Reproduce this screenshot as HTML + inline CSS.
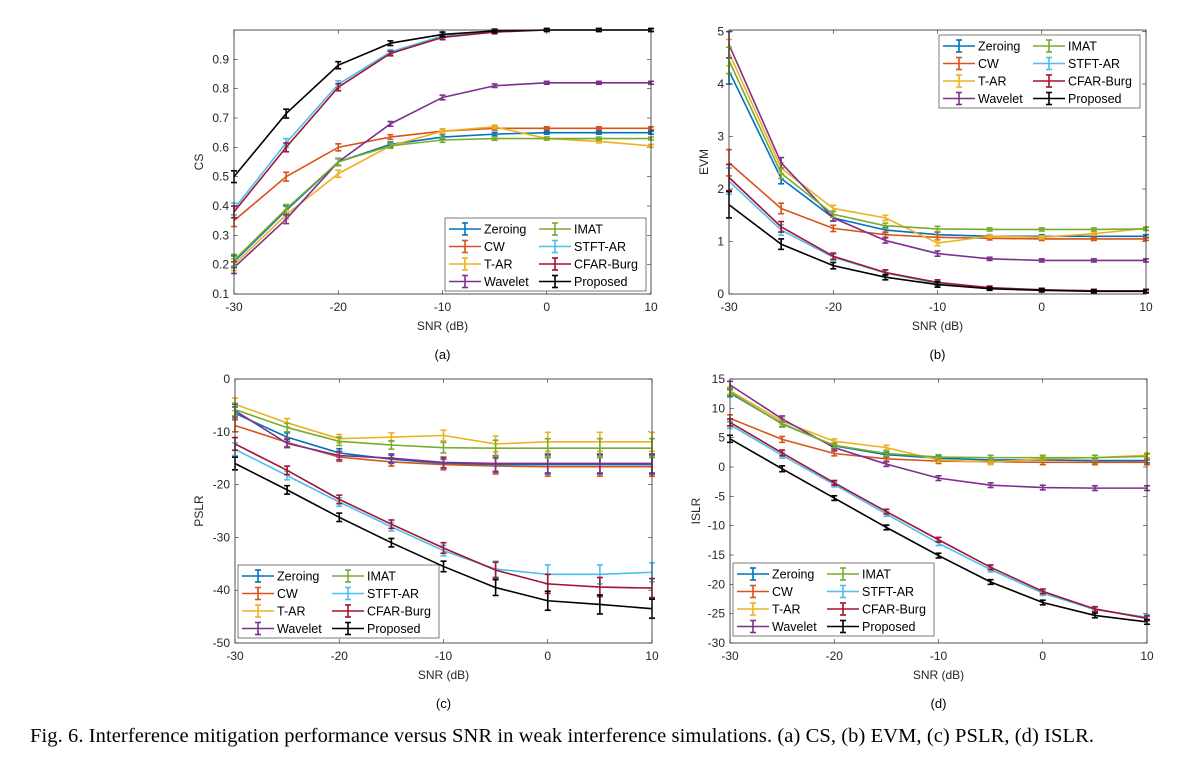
<!DOCTYPE html>
<html><head><meta charset="utf-8"><style>
body{margin:0;background:#fff;width:1195px;height:761px;overflow:hidden;font-family:"Liberation Sans",sans-serif}
svg{position:absolute;left:0;top:0}
</style></head><body>
<svg id="fig" width="1195" height="761" font-family="Liberation Sans, sans-serif"></svg>
<script>
const snr=[-30,-25,-20,-15,-10,-5,0,5,10];
const xTicks=[-30,-20,-10,0,10];
const names=["Zeroing","CW","T-AR","Wavelet","IMAT","STFT-AR","CFAR-Burg","Proposed"];
const colors=["#0072BD","#D95319","#EDB120","#7E2F8E","#77AC30","#4DBEEE","#A2142F","#000000"];
// (a) CS
const csZeroing=[0.21,0.385,0.55,0.61,0.635,0.645,0.65,0.65,0.65];
const csCW=[0.35,0.50,0.60,0.635,0.655,0.665,0.665,0.665,0.665];
const csTAR=[0.20,0.37,0.51,0.605,0.655,0.67,0.63,0.62,0.605];
const csWavelet=[0.19,0.355,0.55,0.68,0.77,0.81,0.82,0.82,0.82];
const csIMAT=[0.215,0.39,0.55,0.605,0.625,0.63,0.63,0.63,0.63];
const csSTFT=[0.39,0.615,0.815,0.925,0.98,0.995,1.0,1.0,1.0];
const csCFAR=[0.38,0.60,0.805,0.92,0.975,0.993,1.0,1.0,1.0];
const csProposed=[0.50,0.715,0.88,0.955,0.985,0.997,1.0,1.0,1.0];
const csErr=[0.02,0.015,0.012,0.008,0.008,0.006,0.005,0.005,0.005];
const csTicks=[0.1,0.2,0.3,0.4,0.5,0.6,0.7,0.8,0.9];
// (b) EVM
const evmZeroing=[4.25,2.2,1.45,1.22,1.13,1.1,1.1,1.1,1.1];
const evmCW=[2.5,1.63,1.25,1.13,1.08,1.06,1.05,1.05,1.05];
const evmTAR=[4.6,2.4,1.63,1.45,0.97,1.1,1.08,1.15,1.25];
const evmWavelet=[4.75,2.5,1.45,1.02,0.77,0.67,0.64,0.64,0.64];
const evmIMAT=[4.45,2.3,1.52,1.3,1.24,1.23,1.23,1.23,1.24];
const evmSTFT=[2.15,1.22,0.7,0.4,0.2,0.12,0.08,0.06,0.06];
const evmCFAR=[2.22,1.28,0.72,0.41,0.22,0.12,0.08,0.06,0.06];
const evmProposed=[1.7,0.95,0.54,0.32,0.18,0.1,0.07,0.05,0.05];
const evmErr=[0.25,0.1,0.06,0.05,0.05,0.03,0.03,0.03,0.03];
const evmTicks=[0,1,2,3,4,5];
// (c) PSLR
const pslrZeroing=[-6.5,-11,-14,-15.2,-16,-16.2,-16.2,-16.2,-16.2];
const pslrCW=[-8.8,-12,-14.8,-15.7,-16.2,-16.5,-16.6,-16.6,-16.6];
const pslrTAR=[-4.8,-8.3,-11.3,-11,-10.7,-12.3,-11.9,-11.9,-11.9];
const pslrWavelet=[-6,-12.2,-14.5,-15,-15.8,-16,-16,-16,-16];
const pslrIMAT=[-5.8,-9.2,-11.8,-12.5,-13,-13.1,-13.1,-13.1,-13.1];
const pslrSTFT=[-13.3,-18.3,-23.3,-28,-32.5,-36,-37,-37,-36.6];
const pslrCFAR=[-12.3,-17.3,-22.8,-27.5,-32,-36.2,-38.8,-39.4,-39.6];
const pslrProposed=[-16,-21,-26.2,-31,-35.5,-39.5,-42,-42.7,-43.5];
const pslrErr=[1.2,0.8,0.8,0.8,1,1.5,1.8,1.8,1.8];
const pslrTicks=[-50,-40,-30,-20,-10,0];
// (d) ISLR
const islrZeroing=[12.6,7.4,3.6,2.1,1.5,1.2,1.2,1.1,1.1];
const islrCW=[8.3,4.7,2.3,1.4,1.0,0.9,0.8,0.8,0.8];
const islrTAR=[13,7.8,4.4,3.3,1.2,0.8,1.4,1.6,2.0];
const islrWavelet=[14,8.2,3.3,0.5,-1.9,-3.1,-3.5,-3.6,-3.6];
const islrIMAT=[12.8,7.3,3.7,2.3,1.7,1.6,1.6,1.6,1.8];
const islrSTFT=[7.2,2.0,-3.0,-8.0,-13,-17.5,-21.5,-24.3,-25.6];
const islrCFAR=[7.6,2.4,-2.7,-7.6,-12.4,-17.1,-21.2,-24.2,-25.8];
const islrProposed=[4.8,-0.3,-5.3,-10.3,-15.1,-19.6,-23.1,-25.3,-26.4];
const islrErr=[0.6,0.5,0.4,0.4,0.4,0.4,0.4,0.4,0.4];
const islrTicks=[-30,-25,-20,-15,-10,-5,0,5,10,15];

const NS="http://www.w3.org/2000/svg";
const svg=document.getElementById('fig');
function mk(tag,attrs,parent,text){const e=document.createElementNS(NS,tag);for(const k in attrs)e.setAttribute(k,attrs[k]);if(text!==undefined)e.textContent=text;(parent||svg).appendChild(e);return e;}

const panels=[
 {id:"cs",label:"CS",letter:"(a)",L:234,R:651,T:30,B:294,ymin:0.1,ymax:1.0,ticks:csTicks,fmt:v=>v.toFixed(1),series:[csZeroing,csCW,csTAR,csWavelet,csIMAT,csSTFT,csCFAR,csProposed],err:csErr,leg:[445,218],ylx:203},
 {id:"evm",label:"EVM",letter:"(b)",L:729,R:1146,T:30,B:294,ymin:0,ymax:5.03,ticks:evmTicks,fmt:v=>String(v),series:[evmZeroing,evmCW,evmTAR,evmWavelet,evmIMAT,evmSTFT,evmCFAR,evmProposed],err:evmErr,leg:[939,35],ylx:708},
 {id:"pslr",label:"PSLR",letter:"(c)",L:235,R:652,T:379,B:643,ymin:-50,ymax:0,ticks:pslrTicks,fmt:v=>String(v),series:[pslrZeroing,pslrCW,pslrTAR,pslrWavelet,pslrIMAT,pslrSTFT,pslrCFAR,pslrProposed],err:pslrErr,leg:[238,565],ylx:203},
 {id:"islr",label:"ISLR",letter:"(d)",L:730,R:1147,T:379,B:643,ymin:-30,ymax:15,ticks:islrTicks,fmt:v=>String(v),series:[islrZeroing,islrCW,islrTAR,islrWavelet,islrIMAT,islrSTFT,islrCFAR,islrProposed],err:islrErr,leg:[733,563],ylx:700}
];

panels.forEach(p=>{
 const g=mk('g',{});
 
 
 const xs=v=>p.L+(v-(-30))/40*(p.R-p.L);
 const ys=v=>p.B-(v-p.ymin)/(p.ymax-p.ymin)*(p.B-p.T);
 xTicks.forEach(t=>{
  const x=xs(t);
  mk('line',{x1:x,x2:x,y1:p.B,y2:p.B-4,stroke:'#262626','stroke-width':0.6},g);
  mk('line',{x1:x,x2:x,y1:p.T,y2:p.T+4,stroke:'#262626','stroke-width':0.6},g);
  const tl=mk('text',{x:x,y:p.B+17,'text-anchor':'middle','font-size':12,fill:'#262626'},g,String(t));
  
  
 });
 p.ticks.forEach(t=>{
  const y=ys(t);
  mk('line',{x1:p.L,x2:p.L+4,y1:y,y2:y,stroke:'#262626','stroke-width':0.6},g);
  mk('line',{x1:p.R,x2:p.R-4,y1:y,y2:y,stroke:'#262626','stroke-width':0.6},g);
  const tl=mk('text',{x:p.L-5,y:y+4,'text-anchor':'end','font-size':12,fill:'#262626'},g,p.fmt(t));
  
  
 });
 p.series.forEach((s,i)=>{
  const sg=mk('g',{},g);
  
  
  const pts=s.map((v,k)=>xs(snr[k])+','+ys(v)).join(' ');
  mk('polyline',{points:pts,fill:'none',stroke:colors[i],'stroke-width':1.6},sg);
  s.forEach((v,k)=>{
   const x=xs(snr[k]),e=p.err[k];
   const y1=ys(v+e),y2=ys(v-e);
   mk('line',{x1:x,x2:x,y1:y1,y2:y2,stroke:colors[i],'stroke-width':1.6},sg);
   mk('line',{x1:x-3,x2:x+3,y1:y1,y2:y1,stroke:colors[i],'stroke-width':1.6},sg);
   mk('line',{x1:x-3,x2:x+3,y1:y2,y2:y2,stroke:colors[i],'stroke-width':1.6},sg);
  });
 });
 mk('rect',{x:p.L,y:p.T,width:p.R-p.L,height:p.B-p.T,fill:'none',stroke:'#262626','stroke-width':0.8},g);
 const xl=mk('text',{x:(p.L+p.R)/2,y:p.B+36,'text-anchor':'middle','font-size':12,fill:'#262626'},g,'SNR (dB)');
 
 
 const cy=(p.T+p.B)/2;
 const yl=mk('text',{x:p.ylx,y:cy,'text-anchor':'middle','font-size':12,fill:'#262626',transform:'rotate(-90 '+p.ylx+' '+cy+')'},g,p.label);
 
 
 const lt=mk('text',{x:(p.L+p.R)/2,y:p.B+65,'text-anchor':'middle','font-size':13,fill:'#000'},g,p.letter);
 
 
 const lg=mk('g',{},g);
 
 
 const [lx,ly]=p.leg;
 mk('rect',{x:lx,y:ly,width:201,height:73,fill:'#fff',stroke:'#262626','stroke-width':0.6},lg);
 names.forEach((n,i)=>{
  const col=i<4?0:1,row=i%4;
  const ox=lx+(col?94:4),oy=ly+11+row*17.5;
  const eg=mk('g',{},lg);
  
  
  mk('line',{x1:ox,x2:ox+32,y1:oy,y2:oy,stroke:colors[i],'stroke-width':1.6},eg);
  mk('line',{x1:ox+16,x2:ox+16,y1:oy-6,y2:oy+6,stroke:colors[i],'stroke-width':1.6},eg);
  mk('line',{x1:ox+13,x2:ox+19,y1:oy-6,y2:oy-6,stroke:colors[i],'stroke-width':1.6},eg);
  mk('line',{x1:ox+13,x2:ox+19,y1:oy+6,y2:oy+6,stroke:colors[i],'stroke-width':1.6},eg);
  mk('text',{x:ox+35,y:oy+4.5,'font-size':12.5,fill:'#000'},eg,n);
 });
});
const cap=mk('text',{x:30,y:742,'font-size':20.5,'font-family':'Liberation Serif, serif',fill:'#000',textLength:1064,lengthAdjust:'spacing'},svg,'Fig. 6.  Interference mitigation performance versus SNR in weak interference simulations. (a) CS, (b) EVM, (c) PSLR, (d) ISLR.');


</script>
</body></html>
